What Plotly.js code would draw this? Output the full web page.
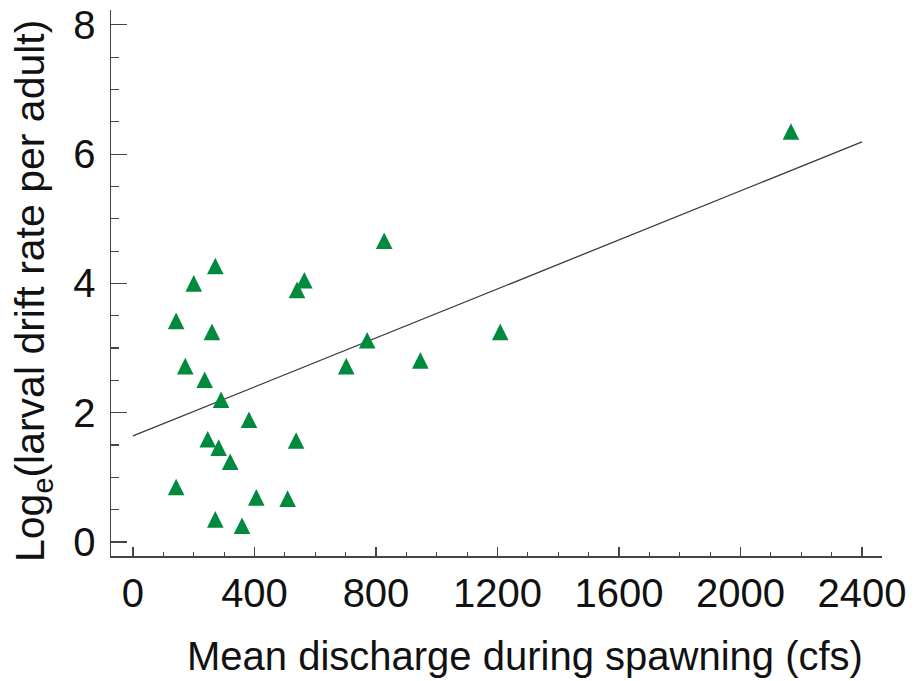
<!DOCTYPE html>
<html>
<head>
<meta charset="utf-8">
<script src="https://cdn.plot.ly/plotly-3.0.1.min.js"></script>
<style>
  html, body { margin: 0; padding: 0; background: #fff; }
  #chart { width: 922px; height: 681px; }
</style>
</head>
<body>
<div id="chart"></div>
<script>
// Observed points: mean discharge during spawning (cfs) vs log_e(larval drift rate per adult)
var dischargeCfs = [271, 200, 564, 540, 142, 260, 172, 236, 290, 382, 702, 246, 282, 537, 320, 142, 406, 509, 271, 359, 771, 946, 1209, 827, 2166];
var logDriftRate = [4.27, 4.00, 4.05, 3.90, 3.42, 3.25, 2.72, 2.51, 2.20, 1.89, 2.72, 1.59, 1.46, 1.57, 1.24, 0.85, 0.69, 0.67, 0.35, 0.25, 3.12, 2.81, 3.25, 4.66, 6.35];

// Fitted regression line end points
var fitX = [0, 2400];
var fitY = [1.64, 6.19];

// Axis ticks
var xTickVals = [0, 400, 800, 1200, 1600, 2000, 2400];
var xTickText = ['0', '400', '800', '1200', '1600', '2000', '2400'];
var yTickVals = [0, 2, 4, 6, 8];
var yTickText = ['0', '2', '4', '6', '8'];

var FONT = '"Liberation Sans", Arial, Helvetica, sans-serif';
var markerSize = 16.6;

var traces = [
  {
    x: fitX, y: fitY,
    type: 'scatter', mode: 'lines',
    line: { color: '#3a3a3a', width: 1.3 },
    hoverinfo: 'skip', showlegend: false
  },
  {
    x: dischargeCfs, y: logDriftRate,
    type: 'scatter', mode: 'markers',
    marker: {
      symbol: 'arrow-down',
      angle: 180,
      standoff: markerSize / 2,
      size: markerSize,
      color: '#008a3e',
      line: { width: 0 }
    },
    showlegend: false
  }
];

var layout = {
  width: 922, height: 681,
  margin: { l: 111, r: 40, t: 10, b: 125, pad: 0 },
  paper_bgcolor: '#ffffff',
  plot_bgcolor: '#ffffff',
  showlegend: false,
  font: { family: FONT, color: '#111111', size: 40 },
  xaxis: {
    range: [-72.4, 2465.8],
    showgrid: false, zeroline: false,
    showline: true, linecolor: '#444444', linewidth: 1.5, mirror: false,
    ticks: 'inside', ticklen: 9, tickwidth: 1.2, tickcolor: '#444444',
    tickmode: 'array', tickvals: xTickVals, ticktext: xTickText,
    tickfont: { family: FONT, size: 40, color: '#111111' },
    ticklabelstandoff: 1,
    minor: { dtick: 100, tick0: 0, ticks: 'inside', ticklen: 4, tickwidth: 1.2, tickcolor: '#444444', showgrid: false },
    fixedrange: true
  },
  yaxis: {
    range: [-0.217, 8.23],
    showgrid: false, zeroline: false,
    showline: true, linecolor: '#444444', linewidth: 1.5, mirror: false,
    ticks: 'inside', ticklen: 16, tickwidth: 1.2, tickcolor: '#444444',
    tickmode: 'array', tickvals: yTickVals, ticktext: yTickText,
    tickfont: { family: FONT, size: 40, color: '#111111' },
    ticklabelstandoff: 6,
    minor: { dtick: 0.5, tick0: 0, ticks: 'inside', ticklen: 8, tickwidth: 1.2, tickcolor: '#444444', showgrid: false },
    fixedrange: true
  },
  annotations: [
    {
      text: 'Mean discharge during spawning (cfs)',
      xref: 'paper', yref: 'paper',
      x: (524.5 - 111) / 771, y: (681 - 656 - 125) / 546,
      xanchor: 'center', yanchor: 'middle',
      showarrow: false,
      font: { family: FONT, size: 40, color: '#111111' }
    },
    {
      text: 'Log<sub>e</sub>(larval drift rate per adult)',
      xref: 'paper', yref: 'paper',
      x: (33 - 111) / 771, y: (681 - 125 - 291) / 546,
      xanchor: 'center', yanchor: 'middle',
      textangle: -90,
      showarrow: false,
      font: { family: FONT, size: 41, color: '#111111' }
    }
  ]
};

Plotly.newPlot('chart', traces, layout, { displayModeBar: false, staticPlot: true });
</script>
</body>
</html>
